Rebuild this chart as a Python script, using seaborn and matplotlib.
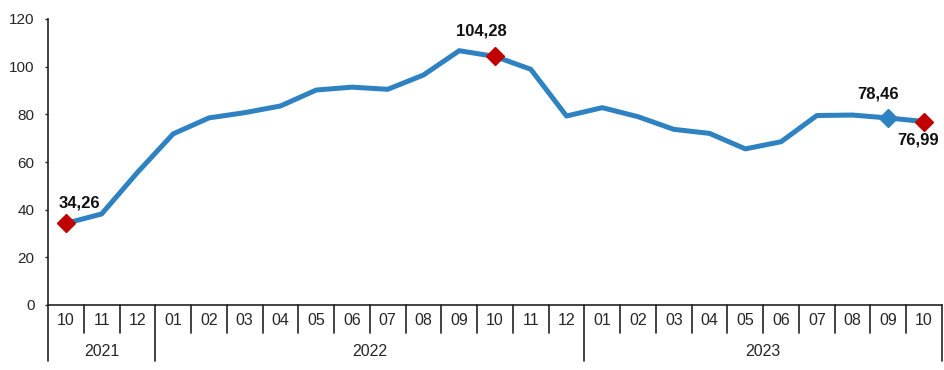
import matplotlib
matplotlib.use('Agg')
import matplotlib.pyplot as plt
import matplotlib.transforms as mtransforms
import pandas as pd
import seaborn as sns

sns.set_style(style='white')
plt.rcParams['font.family'] = ['Liberation Sans', 'DejaVu Sans']

months = ['10', '11', '12', '01', '02', '03', '04', '05', '06', '07', '08', '09',
          '10', '11', '12', '01', '02', '03', '04', '05', '06', '07', '08', '09', '10']
years = ['2021', '2022', '2023']
year_counts = [3, 12, 10]
values = [34.26, 38.2, 55.6, 71.8, 78.5, 80.7, 83.5, 90.2, 91.4, 90.5, 96.5, 106.7,
          104.28, 98.9, 79.3, 82.8, 79.0, 73.7, 72.0, 65.5, 68.5, 79.5, 79.7, 78.46, 76.99]
# highlighted points and their labels
red_points = [0, 12, 24]
blue_points = [23]
labels = {0: '34,26', 12: '104,28', 23: '78,46', 24: '76,99'}
label_offsets = {0: (14, 20), 12: (-14, 25), 23: (-10, 24), 24: (-6, -18)}  # px

line_col = '#2E82C2'
red_col = '#C00000'
txt_col = '#262626'

df = pd.DataFrame({'pos': range(len(values)), 'value': values})

fig = plt.figure(figsize=(9.45, 3.7), dpi=100)
ax = fig.add_axes([48 / 945, 1 - 305 / 370, 894 / 945, 286 / 370])

sns.lineplot(data=df, x='pos', y='value', ax=ax, color=line_col, linewidth=3.6)
ax.plot(df.loc[red_points, 'pos'], df.loc[red_points, 'value'], 'D',
        color=red_col, markersize=9, zorder=5)
ax.plot(df.loc[blue_points, 'pos'], df.loc[blue_points, 'value'], 'D',
        color=line_col, markersize=9, zorder=5)

for i, lab in labels.items():
    dx, dy = label_offsets[i]
    ax.annotate(lab, (i, values[i]), xytext=(dx * 0.72, dy * 0.72),
                textcoords='offset points', ha='center', va='center',
                fontsize=12, fontweight='bold', color='#111111')

ax.set_xlim(-0.5, len(values) - 0.5)
ax.set_ylim(0, 120)
ax.set_yticks(range(0, 121, 20))
ax.set_xticks(range(len(values)))
ax.set_xticklabels(months)
ax.set_xlabel('')
ax.set_ylabel('')
ax.tick_params(axis='y', left=True, length=2.2, width=1, pad=7.5,
               labelsize=11, labelcolor=txt_col, color='#222222')
ax.tick_params(axis='x', bottom=False, length=0, pad=5.5,
               labelsize=11.5, labelcolor=txt_col)

for s in ['top', 'right']:
    ax.spines[s].set_visible(False)
for s in ['left', 'bottom']:
    ax.spines[s].set_color('#222222')
    ax.spines[s].set_linewidth(1.2)

# two-level category axis below the plot
trans = mtransforms.blended_transform_factory(ax.transData, ax.transAxes)
month_depth = -(333 - 305) / 286
year_depth = -(361 - 305) / 286
boundaries = [-0.5]
for c in year_counts:
    boundaries.append(boundaries[-1] + c)
for k in range(1, len(values)):
    b = k - 0.5
    if b in boundaries:
        continue
    ax.plot([b, b], [0, month_depth], transform=trans, color='#222222',
            linewidth=1.2, clip_on=False)
for b in boundaries:
    ax.plot([b, b], [0, year_depth], transform=trans, color='#222222',
            linewidth=1.2, clip_on=False)
for y, start, end in zip(years, boundaries[:-1], boundaries[1:]):
    ax.text((start + end) / 2, -(351 - 305) / 286, y, transform=trans,
            ha='center', va='center', fontsize=11.5, color=txt_col)

fig.savefig('out.png', dpi=100)
plt.close(fig)
